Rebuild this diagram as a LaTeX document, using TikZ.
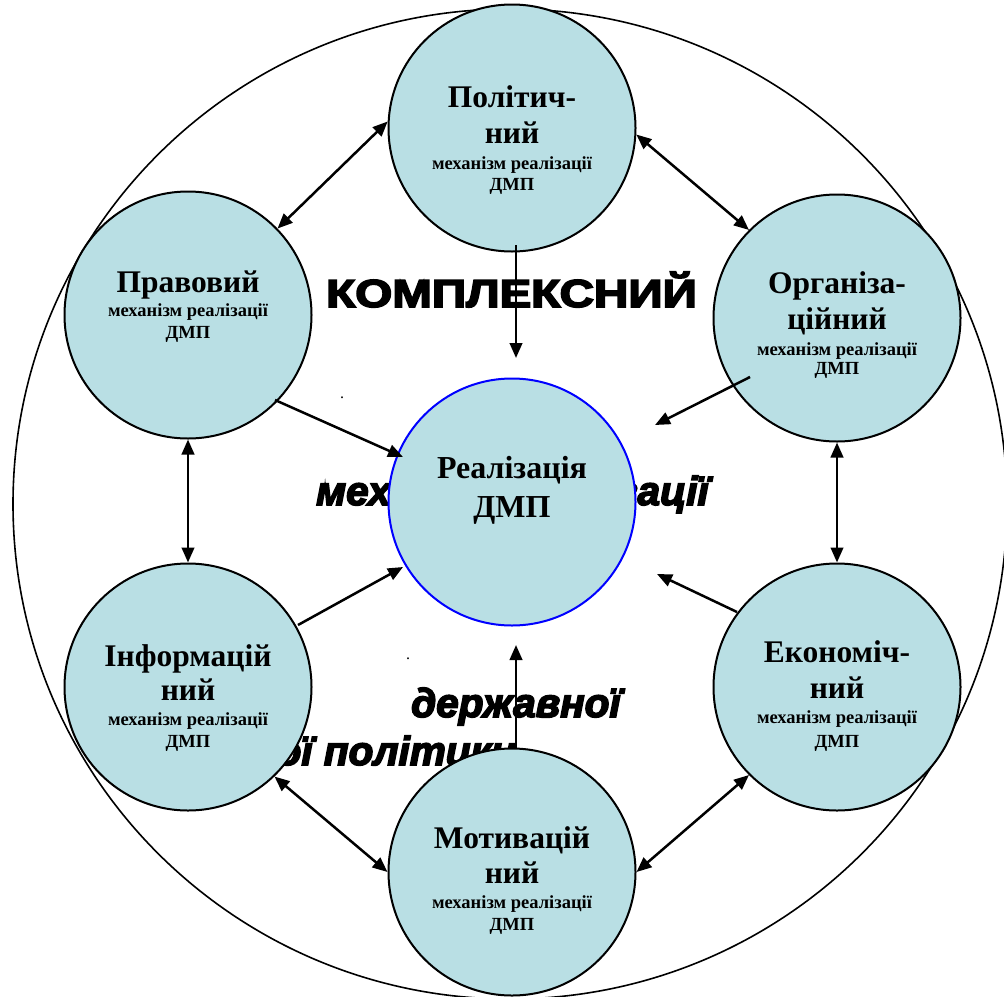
\documentclass[tikz,border=0pt]{standalone}
\usepackage{fontspec}
\setmainfont{Liberation Serif}
\newfontfamily\heavyup{Liberation Sans Bold}[RawFeature={embolden=4}]
\newfontfamily\heavyit{Liberation Sans Bold Italic}[RawFeature={embolden=4}]
\usetikzlibrary{arrows.meta}
\definecolor{cfill}{RGB}{185,223,228}
\begin{document}
\begin{tikzpicture}[x=1pt,y=-1pt,
  mcirc/.style={circle,draw=black,line width=2pt,fill=cfill,minimum size=247pt,inner sep=0pt},
  arr/.style={line width=2.5pt,-{Triangle[length=15pt,width=12.5pt]}},
  darr/.style={line width=2.5pt,{Triangle[length=15pt,width=12.5pt]}-{Triangle[length=15pt,width=12.5pt]}},
  ttl/.style={font=\fontsize{31.5}{36}\selectfont\bfseries,anchor=base,inner sep=0pt},
  sub/.style={font=\fontsize{18.5}{20}\selectfont\bfseries,anchor=base,inner sep=0pt},
  bgtxt/.style={font=\heavyit\fontsize{40.5}{48}\selectfont,inner sep=0pt},
]
\useasboundingbox (0,0) rectangle (1004,996);
\clip (0,0) rectangle (1004,996);

% background text
\node[font=\heavyup\fontsize{39}{44}\selectfont,inner sep=0pt,anchor=base] (komp) at (511.5,307) {\scalebox{1.22}[1]{КОМПЛЕКСНИЙ}};
\node[bgtxt,anchor=base west] (mech) at (316,505) {механізм реалізації};
\node[bgtxt,anchor=base west] (derzh) at (411,717) {державної};
\begin{scope}
  \clip (200,700) rectangle (620,790);
  \node[bgtxt,anchor=base east] (polit) at (516,765) {міграційної політики};
\end{scope}
\node[font=\fontsize{16}{18}\selectfont,inner sep=0pt,anchor=base] (dot1) at (342,398) {.};
\node[font=\fontsize{16}{18}\selectfont,inner sep=0pt,anchor=base] (dot2) at (408,659) {.};

% big circle
\draw[line width=1.6pt] (510,504) ellipse [x radius=497, y radius=495];

% circles
\node[mcirc] (pol) at (512,128) {};
\node[mcirc] (prav) at (188,315) {};
\node[mcirc] (org) at (837,318) {};
\node[mcirc,draw=blue] (real) at (512,502) {};
\node[mcirc] (inf) at (188,687) {};
\node[mcirc] (eko) at (837,687) {};
\node[mcirc] (mot) at (512,872) {};

% texts in circles
\node[ttl] (pol1) at (512,107) {Політич-};
\node[ttl] (pol2) at (512,143) {ний};
\node[sub] (pol3) at (512,169) {механізм реалізації};
\node[sub] (pol4) at (512,190) {ДМП};

\node[ttl] (prav1) at (188,292) {Правовий};
\node[sub] (prav3) at (188,316) {механізм реалізації};
\node[sub] (prav4) at (188,338) {ДМП};

\node[ttl] (org1) at (837,293) {Організа-};
\node[ttl] (org2) at (837,329) {ційний};
\node[sub] (org3) at (837,355) {механізм реалізації};
\node[sub] (org4) at (837,374) {ДМП};

\node[ttl,font=\fontsize{32}{36}\selectfont\bfseries] (real1) at (512,478) {Реалізація};
\node[ttl,font=\fontsize{32}{36}\selectfont\bfseries] (real2) at (512,517) {ДМП};

\node[ttl] (inf1) at (188,666) {Інформацій};
\node[ttl] (inf2) at (188,700) {ний};
\node[sub] (inf3) at (188,725) {механізм реалізації};
\node[sub] (inf4) at (188,747) {ДМП};

\node[ttl] (eko1) at (837,662) {Економіч-};
\node[ttl] (eko2) at (837,698) {ний};
\node[sub] (eko3) at (837,723) {механізм реалізації};
\node[sub] (eko4) at (837,747) {ДМП};

\node[ttl] (mot1) at (512,848) {Мотивацій};
\node[ttl] (mot2) at (512,883) {ний};
\node[sub] (mot3) at (512,908) {механізм реалізації};
\node[sub] (mot4) at (512,930) {ДМП};

% double arrows between outer circles
\draw[darr] (prav.44) -- (pol.177);
\draw[darr] (pol.357) -- (org.135.6);
\draw[darr] (prav.south) -- (inf.north);
\draw[darr] (org.south) -- (eko.north);
\draw[darr] (inf.314.7) -- (mot.180);
\draw[darr] (mot.0) -- (eko.225.3);

% single arrows toward the centre
\coordinate (s1) at (516,245); \coordinate (e1) at (516,358);
\coordinate (s2) at (275,400); \coordinate (e2) at (403,457);
\coordinate (s3) at (750,377); \coordinate (e3) at (655,425);
\coordinate (s4) at (298,625); \coordinate (e4) at (403,567);
\coordinate (s5) at (737,612); \coordinate (e5) at (657,574);
\coordinate (s6) at (516,748); \coordinate (e6) at (516,645);
\draw[arr] (s1) -- (e1);
\draw[arr] (s2) -- (e2);
\draw[arr] (s3) -- (e3);
\draw[arr] (s4) -- (e4);
\draw[arr] (s5) -- (e5);
\draw[arr] (s6) -- (e6);
\end{tikzpicture}
\end{document}
